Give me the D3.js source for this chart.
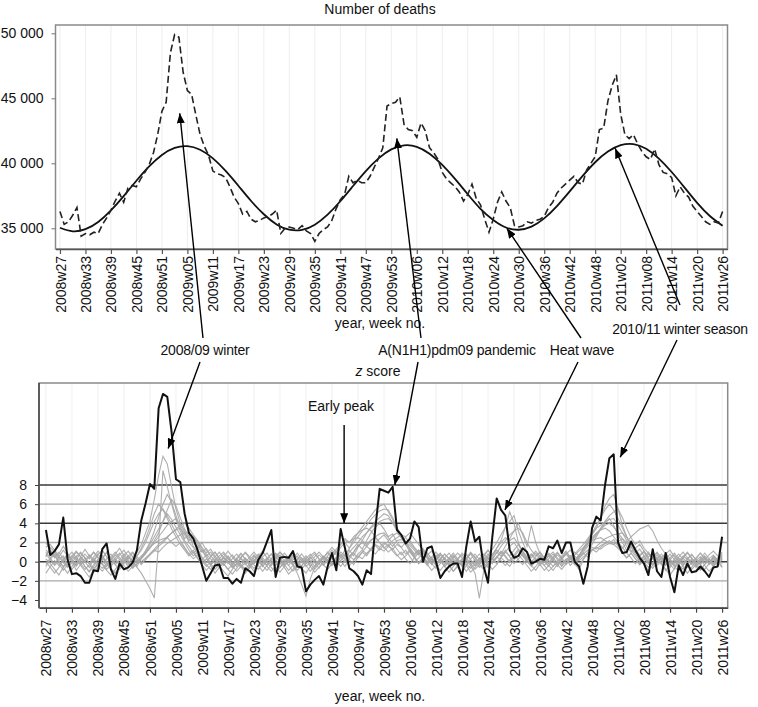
<!DOCTYPE html>
<html><head><meta charset="utf-8">
<script src="https://cdn.jsdelivr.net/npm/d3@7"></script>
<style>
body{margin:0;background:#fff;}
text{font-family:"Liberation Sans",Arial,Helvetica,sans-serif;}
</style></head>
<body><svg id="c" width="758" height="707"></svg>
<script>
// ---------- DATA ----------
const tickLabels = ["2008w27","2008w33","2008w39","2008w45","2008w51","2009w05","2009w11","2009w17","2009w23","2009w29","2009w35","2009w41","2009w47","2009w53","2010w06","2010w12","2010w18","2010w24","2010w30","2010w36","2010w42","2010w48","2011w02","2011w08","2011w14","2011w20","2011w26"];

const deathsTicks = [35000, 40000, 45000, 50000];
const zTicks = [-4, -2, 0, 2, 4, 6, 8];
const zGridDark = [0, 4, 8];
const zGridLight = [-2, 2, 6];

// observed weekly deaths (dashed)
const deaths = [
36300,35300,35500,36000,36600,34400,34600,34500,34700,34600,35300,35800,36400,
37100,37700,37000,38100,38300,38200,38800,39300,39900,40800,42200,44000,44700,
48500,49900,49700,47000,45600,45300,43700,42200,41300,40600,39400,39200,39100,
38900,38200,37400,36900,36100,36300,35700,35500,35600,35800,35900,36100,36400,
34600,35000,35100,35000,34900,35200,34800,34600,34000,34600,34900,35100,35600,
36500,37200,37600,39000,38500,38700,38500,38500,39000,39700,40400,41200,44400,
44600,44700,45100,43000,42600,42500,42000,43100,42500,41200,40800,40300,39300,
38800,38500,38200,37800,37100,37600,38400,37300,36800,35700,34700,35700,37000,
37800,37100,36600,35200,35100,35200,35500,35400,35600,35700,35900,36600,37000,
37700,38100,38400,38700,39000,38500,38400,39500,40000,40500,42600,42700,44800,
46000,46800,43800,42200,41900,42200,41500,40900,40500,40300,41100,39900,39300,
39200,38900,37500,38200,37700,37400,36700,36300,35900,35500,35300,35500,35400,
36300];

// baseline (solid), read every 3rd week
const baselineStep = 3;
const baseline = [35040,34770,34930,35490,36380,37480,38660,39760,40640,41180,41320,41040,40380,39410,38270,37100,36080,35300,34890,34880,35280,36050,37080,38250,39400,40380,41070,41380,41270,40740,39880,38800,37620,36500,35640,35060,34890,35130,35760,36710,37840,39010,40080,40900,41390,41480,41120,40360,39330,38150,36960,35950,35200];

// pooled z score (thick black)
const zPooled = [
3.3,0.7,1.1,1.8,4.6,0.2,-1.3,-1.2,-1.5,-2.2,-2.2,-0.9,-1.0,
1.3,1.9,-0.8,-1.8,-0.2,-0.8,-0.6,-0.1,1.2,4.3,6.1,8.1,7.6,
16.0,17.5,17.2,13.5,8.6,8.3,5.0,3.0,2.4,1.2,-0.4,-2.0,-1.2,
-0.4,-0.3,-1.7,-1.7,-2.3,-1.8,-2.2,-0.7,-1.0,-1.5,0.2,0.9,2.1,
3.3,-1.6,0.4,0.5,0.4,1.1,-0.5,-0.6,-3.1,-2.4,-1.9,-1.5,-2.4,
-0.5,0.9,-0.9,3.4,1.4,-0.7,-1.0,-1.5,-2.4,-0.9,-1.3,3.5,7.6,
7.4,7.2,7.8,3.3,2.8,1.9,2.4,4.2,3.6,0.0,1.4,1.6,0.0,
-1.7,-1.0,-0.5,-0.2,-0.2,-1.6,1.6,4.2,2.1,2.6,-0.5,-2.2,2.6,
6.6,5.4,4.8,1.2,0.4,0.6,1.4,1.0,-0.2,0.0,0.3,0.2,1.6,
1.4,2.2,0.9,2.0,2.0,0.0,-0.5,-2.3,-0.5,3.5,4.7,4.3,8.0,
10.8,11.2,2.0,0.9,1.0,2.1,1.2,0.4,-0.2,-1.4,1.3,-1.0,-1.6,
0.9,-1.6,-3.2,-0.4,-1.4,-0.2,-1.1,-1.0,-0.5,-1.0,-1.6,-0.6,-0.5,
2.6];

// country z scores (grey)
const zCountry1 = [
1.2,0.8,0.5,1.0,0.3,-0.4,-0.8,-0.2,0.4,-0.5,-1.0,-0.3,0.2,
0.6,-0.2,-0.8,-1.2,-0.5,0.1,-0.3,0.5,1.0,1.8,3.0,4.2,6.5,
9.0,11.0,10.2,7.8,5.5,4.0,3.2,2.0,1.5,0.8,1.2,0.4,-0.3,
0.2,-0.6,-0.2,0.5,-0.4,-1.0,-0.5,0.3,-0.2,0.6,0.1,-0.5,0.2,
0.8,0.1,-0.6,-0.2,0.4,-0.3,-0.9,-0.4,0.2,-0.5,0.1,0.7,0.3,
-0.2,0.5,1.0,0.4,0.8,1.2,0.6,1.5,2.2,3.0,3.6,4.2,4.6,
5.0,4.8,4.0,3.2,2.5,1.8,1.2,0.6,1.0,0.3,-0.2,0.4,-0.3,
0.2,-0.5,-0.1,0.6,0.0,-0.4,0.3,0.8,0.1,-0.6,-0.2,0.5,0.2,
1.0,0.6,1.2,0.5,-0.2,0.3,0.8,0.2,-0.4,0.1,0.6,0.0,-0.5,
0.2,0.7,0.3,-0.2,0.5,1.0,0.6,1.4,2.0,2.8,3.5,4.6,5.8,
6.6,7.0,5.5,3.8,2.6,1.8,1.2,0.6,1.0,0.2,-0.4,0.3,-0.2,
0.5,-0.3,-0.8,0.2,-0.4,0.4,-0.1,-0.6,0.0,0.5,-0.3,0.2,-0.4,
0.3];
const zCountry2 = [
0.5,1.5,1.0,0.2,0.6,-0.5,0.0,-0.9,-0.3,0.4,-0.2,-1.1,-0.6,
0.3,1.0,0.4,-0.3,-0.8,-0.2,0.6,0.1,-0.5,0.4,1.2,2.0,3.2,
4.6,6.0,7.0,6.2,4.8,3.5,2.4,2.8,1.6,1.0,0.2,0.7,-0.2,
-0.8,-0.3,0.4,0.0,-0.6,0.2,0.8,0.3,-0.4,-1.0,-0.3,0.5,0.9,
0.2,-0.4,0.3,0.9,0.4,-0.3,0.1,-0.7,-1.2,-0.5,0.2,-0.2,0.4,
1.0,0.3,-0.3,0.5,1.2,0.6,1.0,1.8,1.3,2.2,3.0,3.6,4.0,
3.4,2.6,2.9,2.0,1.5,0.8,1.2,0.5,-0.2,0.4,0.9,0.2,-0.4,
-0.9,-0.3,0.4,-0.2,0.3,-0.5,0.2,0.9,0.5,-0.3,0.1,0.6,1.3,
2.0,2.8,3.6,4.2,4.8,3.2,2.0,1.0,0.4,0.9,0.2,-0.4,0.3,
0.8,0.2,-0.5,0.1,0.6,-0.2,-0.8,0.2,1.0,1.8,2.6,3.4,4.0,
4.5,3.8,2.8,2.0,1.2,1.6,0.8,0.2,0.6,-0.2,0.4,0.9,0.3,
-0.3,0.2,-0.5,-1.0,-0.4,0.3,0.8,0.2,-0.3,0.4,-0.2,0.6,0.1,
-0.5];
const zCountry3 = [
2.0,1.2,0.4,0.8,1.6,0.9,0.2,0.6,-0.3,0.1,0.7,0.2,-0.5,
-1.0,-0.4,0.3,0.8,1.4,0.6,0.0,-0.6,-0.2,0.3,0.8,1.5,2.2,
3.0,4.2,5.4,6.5,5.8,4.6,3.4,2.6,2.0,1.4,2.0,1.2,0.6,
1.0,0.3,-0.4,0.2,0.7,0.1,-0.5,-1.2,-0.6,0.0,0.6,1.1,0.4,
-0.2,0.5,0.0,-0.6,-1.3,-0.8,-0.2,0.4,-0.1,0.6,1.0,0.3,-0.4,
0.2,-0.3,0.5,0.1,-0.5,0.3,0.9,0.4,1.0,1.6,1.2,2.0,2.4,
2.8,2.2,2.7,3.0,2.5,1.8,2.2,1.5,1.0,1.4,0.6,0.0,0.5,
0.9,0.3,-0.3,0.2,-0.6,-1.1,-0.4,0.3,0.8,0.2,-0.3,0.4,-0.1,
0.5,1.1,0.6,0.0,0.7,1.3,0.8,0.2,-0.4,-0.9,-0.2,0.5,0.1,
-0.5,0.0,0.6,1.1,0.4,-0.2,0.5,1.0,1.6,2.2,2.8,3.5,4.2,
4.8,5.2,5.5,4.6,3.5,2.5,1.8,2.2,1.4,0.9,0.3,0.7,0.1,
-0.4,0.2,0.7,0.1,-0.5,-1.2,-0.6,0.1,0.5,-0.1,0.3,-0.4,0.2,
0.6];
const zCountry4 = [
-0.5,0.2,0.8,-0.2,-0.9,-0.3,0.4,1.0,0.5,1.3,0.6,0.0,0.7,
1.2,0.5,-0.2,0.4,0.9,0.2,-0.6,-0.2,0.6,1.2,2.0,3.1,4.2,
5.0,5.5,4.8,3.9,3.0,2.2,1.5,0.8,1.2,0.4,-0.3,0.3,-0.4,
-1.2,-0.6,0.1,0.6,0.0,-0.5,0.4,1.0,0.5,-0.2,0.3,-0.4,-0.9,
-0.3,0.4,1.0,0.5,0.0,0.6,-0.2,-0.8,-0.2,0.5,-0.1,-0.7,0.0,
0.6,1.2,0.7,1.5,2.0,1.4,2.3,3.0,3.6,4.2,4.8,5.4,5.8,
6.0,5.2,4.4,3.5,2.8,2.0,1.4,0.8,1.2,0.5,-0.1,0.4,-0.3,
0.2,0.8,0.3,-0.3,0.3,0.9,0.4,-0.2,-0.8,-0.3,0.2,0.8,0.4,
-0.2,0.5,1.0,1.6,2.0,1.3,0.6,0.1,0.6,1.1,0.5,0.0,0.6,
1.0,0.4,-0.2,0.3,-0.4,0.2,0.7,1.3,2.0,2.5,3.0,3.3,3.5,
3.2,2.6,2.0,1.4,2.0,1.2,0.6,0.0,0.5,1.0,0.4,-0.2,0.4,
0.9,0.3,-0.3,0.4,0.0,-0.6,-0.1,0.4,0.9,0.3,-0.2,0.5,0.0,
0.8];
const zCountry5 = [
1.0,0.4,-0.3,0.5,1.2,0.6,0.0,-0.5,0.2,0.8,0.3,1.0,0.5,
-0.2,-0.8,-0.3,0.3,-0.2,0.6,1.1,0.5,0.0,0.4,0.9,1.4,2.0,
2.6,3.2,3.8,4.2,4.5,3.8,3.0,2.4,2.0,1.6,1.0,1.4,0.6,
0.1,0.6,1.0,0.4,-0.2,0.3,-0.3,-0.8,-0.2,0.4,0.8,0.2,-0.4,
0.3,0.8,0.2,-0.4,0.2,0.7,0.1,-0.5,0.3,0.8,0.2,-0.3,0.4,
0.9,1.5,1.0,1.8,2.4,2.0,2.6,3.0,3.3,3.5,3.2,2.6,2.0,
1.4,1.8,1.1,0.6,1.0,0.3,-0.2,0.4,0.9,0.2,-0.4,0.3,0.7,
0.1,-0.5,0.2,0.7,0.2,-0.3,0.4,1.0,0.4,-0.1,0.5,1.2,0.6,
1.4,2.2,3.6,5.2,4.0,2.0,1.0,0.4,0.8,0.2,-0.4,0.2,0.6,
0.1,-0.5,0.2,0.8,0.3,-0.3,0.3,0.9,0.5,1.2,1.6,2.0,2.4,
2.6,2.8,2.9,3.0,2.5,1.9,1.4,1.8,1.1,0.5,0.9,0.3,-0.2,
0.3,0.8,0.2,-0.3,0.4,0.9,0.3,-0.4,0.1,0.6,0.0,-0.5,0.2,
0.7];
const zCountry6 = [
0.3,-0.2,-0.8,-1.4,-0.6,0.0,0.6,0.2,-0.4,-1.0,-1.6,-0.9,-0.3,
0.4,-0.1,-0.7,-1.2,-0.6,0.0,0.5,0.0,0.6,1.4,2.4,3.6,5.0,
6.0,5.4,4.5,3.4,2.6,1.8,1.2,0.6,1.0,0.3,-0.3,-0.9,-0.4,
0.2,-0.4,-1.0,-1.5,-0.8,-0.2,0.4,-0.2,-0.7,0.0,0.6,0.1,-0.5,
-1.0,-0.4,0.3,-0.3,-0.9,-0.4,0.2,0.8,0.2,-0.5,-1.1,-0.6,0.0,
0.5,-0.1,-0.6,0.1,0.6,0.2,-0.3,0.5,1.0,0.6,1.3,1.7,1.2,
1.8,2.1,1.6,2.2,2.3,2.5,1.9,1.4,0.8,1.2,0.5,-0.2,-0.7,
-0.2,0.4,-0.3,-1.0,-0.5,0.2,-0.4,-1.1,-0.6,0.0,0.5,-0.2,-0.8,
-0.3,0.4,1.0,0.6,1.2,1.8,1.0,0.4,-0.2,0.3,-0.3,-0.9,-0.4,
0.2,-0.3,-0.8,-0.2,0.4,0.0,0.6,1.2,1.8,2.4,2.9,3.4,3.8,
4.0,3.6,3.0,2.4,1.6,1.0,1.4,0.6,0.0,-0.6,-0.1,0.5,-0.2,
-0.8,-1.4,-0.7,-0.1,0.4,-0.2,-0.8,-0.3,0.3,-0.4,-1.0,-0.5,0.0,
-0.6];
const zCountry7 = [
-1.2,-0.5,0.1,-0.4,0.3,0.8,0.2,-0.3,0.5,0.0,-0.6,0.2,0.8,
0.2,-0.5,0.1,0.7,0.2,-0.4,-1.0,-0.5,0.2,-0.3,0.3,0.8,1.3,
1.8,2.2,2.6,3.0,3.3,3.5,2.8,2.2,2.6,1.8,1.2,0.6,1.0,
0.4,-0.2,0.5,0.0,-0.6,-0.2,0.5,0.9,0.3,-0.3,-0.8,-0.2,0.4,
0.0,-0.6,-1.1,-0.5,0.1,-0.4,-1.2,-2.4,-3.6,-1.8,-0.6,0.0,0.5,
0.1,-0.4,0.3,0.8,0.3,1.0,1.5,2.0,2.6,3.0,3.5,3.9,4.2,
4.4,4.5,4.1,3.4,2.6,2.0,1.4,0.8,1.2,0.5,0.0,0.5,1.0,
0.4,-0.2,0.4,0.9,0.3,-0.3,0.2,-0.4,0.3,0.8,0.2,-0.3,0.4,
0.9,1.6,2.2,2.8,3.2,3.5,3.0,2.0,1.2,0.6,1.0,0.3,-0.2,
0.4,0.9,0.3,-0.3,0.2,0.7,1.1,1.5,1.9,2.2,2.4,2.5,2.2,
1.9,2.3,1.6,1.0,0.4,0.9,0.3,-0.3,0.2,0.8,0.3,-0.4,0.1,
0.6,0.1,-0.5,0.0,0.6,0.2,-0.3,0.3,0.9,0.3,-0.2,0.4,-0.3,
0.2];
const zCountry8 = [
0.8,0.2,-0.4,0.1,-0.6,-1.2,-0.5,0.2,0.9,0.4,-0.2,0.5,1.1,
0.6,0.0,-0.5,0.1,0.7,1.2,0.5,0.0,-0.6,-1.2,-2.0,-2.8,-3.8,
2.0,9.5,7.8,6.0,4.4,3.2,2.2,1.6,0.9,1.3,0.5,-0.1,0.5,
1.0,0.4,-0.2,-0.8,-0.3,0.4,0.9,0.2,-0.4,0.2,-0.4,-1.0,-0.4,
0.3,0.9,0.4,-0.2,0.5,1.0,0.4,-0.1,0.4,-0.2,-0.8,-0.2,0.5,
0.0,0.6,1.1,0.5,-0.1,0.5,1.0,1.6,2.0,1.6,2.2,2.6,2.9,
3.0,2.5,1.9,1.3,0.7,1.2,0.5,-0.1,0.4,0.9,0.3,-0.3,0.2,
0.7,0.2,-0.4,-1.0,-0.4,0.2,0.7,0.2,-0.4,0.2,0.8,0.3,-0.2,
0.4,1.0,0.5,-0.1,0.5,1.1,0.6,0.0,-0.5,0.1,0.6,0.1,-0.4,
-0.9,-0.3,0.3,0.8,0.3,-0.2,0.4,0.8,1.2,1.5,1.3,1.7,1.9,
2.0,1.8,1.4,0.9,0.4,0.9,0.3,-0.3,0.3,-0.2,-0.7,-0.1,0.5,
0.0,-0.6,0.0,0.5,1.0,0.4,-0.2,0.3,-0.3,-0.8,-0.2,0.4,0.0,
0.5];
const zCountry9 = [
1.5,1.8,1.2,0.6,0.0,0.5,1.0,0.4,-0.2,-0.8,-0.3,0.3,-0.2,
-0.7,-0.2,0.5,1.0,0.4,-0.1,0.3,0.9,0.3,-0.2,0.2,0.7,1.1,
1.6,2.0,2.5,3.0,3.4,3.8,4.0,3.5,2.8,2.2,1.5,0.9,1.3,
0.6,0.0,0.5,1.1,0.5,-0.1,-0.6,-0.1,0.5,1.0,0.4,-0.2,0.3,
0.8,0.2,-0.3,0.2,-0.4,-1.0,-0.5,0.1,0.6,0.1,-0.5,0.1,0.6,
0.2,-0.3,0.2,0.7,0.2,-0.4,0.1,0.6,0.3,0.9,1.2,0.8,1.4,
1.1,1.6,1.3,1.8,1.5,2.0,1.7,1.2,0.7,1.1,0.4,-0.2,0.3,
0.8,0.3,-0.2,0.4,0.9,0.4,-0.2,-0.7,-0.2,0.4,-0.1,-0.6,0.0,
0.5,0.1,-0.4,0.2,0.7,0.2,-0.3,0.3,0.8,0.3,-0.2,0.4,0.9,
0.4,-0.1,0.4,1.0,0.5,0.0,0.6,1.4,2.2,3.0,3.8,4.6,5.4,
6.0,5.4,4.5,3.5,2.6,1.8,1.2,0.7,1.1,0.4,-0.2,0.3,0.8,
0.2,-0.3,0.3,0.8,0.2,-0.3,0.2,-0.4,-0.9,-0.3,0.3,0.7,0.2,
-0.2];
const zCountry10 = [
-0.3,0.4,1.0,0.5,-0.1,-0.6,-0.1,0.5,1.0,0.4,-0.2,-0.7,-0.2,
0.4,0.9,0.3,-0.3,0.2,0.8,0.2,-0.4,0.1,0.6,1.0,1.5,1.9,
2.2,2.4,2.5,2.0,1.6,2.0,1.4,0.8,0.3,0.7,0.1,-0.5,0.0,
0.5,1.0,0.4,-0.2,0.3,0.8,0.3,-0.3,0.2,0.7,0.1,-0.5,0.1,
-0.4,0.2,0.7,0.1,-0.4,0.2,0.6,0.1,-0.5,-0.1,0.5,1.0,0.5,
-0.1,0.4,0.0,-0.5,0.1,0.6,0.2,0.8,1.2,0.8,1.4,1.8,1.5,
2.0,1.6,2.2,2.5,2.8,2.6,3.0,2.4,1.8,1.2,0.7,1.1,0.5,
-0.1,0.4,0.9,0.3,-0.2,0.3,0.8,0.2,-0.4,0.2,0.7,1.2,0.6,
1.2,0.8,1.6,2.4,3.2,4.0,2.8,1.6,3.8,2.0,0.8,0.3,0.8,
0.2,-0.3,0.3,0.8,1.2,0.6,0.1,0.5,0.9,1.3,1.0,1.5,1.9,
2.2,1.8,2.1,2.4,2.0,2.6,3.0,3.4,3.6,3.8,3.2,2.2,1.4,
0.8,1.2,0.5,-0.1,0.5,1.0,0.4,-0.2,0.3,0.9,0.3,-0.2,0.4,
1.0];
const zCountry11 = [
0.0,-0.6,-1.2,-0.6,0.1,0.7,0.2,-0.4,0.1,-0.5,-1.1,-0.5,0.2,
-0.3,-0.9,-1.4,-0.8,-0.2,0.4,-0.1,-0.7,-0.2,0.4,1.0,1.8,2.6,
3.4,4.2,5.0,4.4,3.6,2.8,2.0,1.2,0.6,1.0,0.3,-0.3,-0.8,
-0.3,0.3,-0.2,-0.8,-1.3,-0.7,-0.1,0.4,-0.2,-0.7,-0.2,0.4,-0.1,
-0.6,-1.2,-0.6,0.0,0.5,0.0,-0.5,0.1,-0.4,-1.0,-0.4,0.2,-0.3,
-0.8,-0.2,0.4,1.0,0.6,1.4,2.0,2.6,3.2,3.8,4.4,4.9,5.3,
5.5,5.4,4.6,3.6,2.6,1.8,1.0,0.4,-0.2,0.3,-0.3,-0.9,-0.4,
0.1,-0.5,-1.1,-0.5,0.1,-0.4,-1.0,-0.4,0.2,-0.3,-0.8,-0.3,0.3,
-0.2,0.4,0.0,-0.5,0.2,0.7,0.2,-0.4,-1.0,-0.5,0.1,-0.4,-1.0,
-0.5,0.1,-0.4,0.2,0.6,0.1,-0.4,0.3,0.8,1.2,1.5,1.3,1.7,
1.9,1.8,2.0,1.5,0.9,0.4,-0.2,0.3,-0.3,-0.9,-0.4,0.2,-0.3,
-0.9,-0.4,0.2,-0.3,-0.8,-0.2,0.3,-0.2,-0.8,-0.3,0.2,-0.3,0.1,
0.4];
const zCountry12 = [
0.6,1.2,0.6,0.0,-0.5,0.1,0.6,1.1,0.5,0.0,0.5,1.0,0.4,
-0.2,0.3,0.8,0.2,-0.4,0.1,0.6,1.0,0.5,0.0,0.4,0.8,1.2,
1.0,1.5,1.9,2.2,2.5,2.8,3.0,3.0,2.6,2.0,1.4,0.8,0.3,
-0.2,0.3,0.8,0.3,-0.3,0.2,-0.4,-1.0,-0.5,0.1,0.6,0.1,-0.4,
0.1,0.6,1.0,0.5,-0.1,0.4,0.9,0.3,-0.2,0.3,0.8,0.3,-0.3,
0.2,0.8,1.3,1.8,2.2,2.0,2.4,2.5,2.2,1.8,2.3,2.5,2.0,
1.5,1.0,1.4,0.7,0.2,0.6,1.1,0.5,-0.1,0.4,0.9,0.3,-0.2,
0.3,0.8,0.3,-0.3,0.2,0.7,0.1,-0.4,-1.2,-3.8,-1.0,0.2,0.8,
1.4,2.0,2.5,2.2,2.5,1.8,1.1,0.5,0.0,0.5,1.0,0.4,-0.1,
0.5,1.0,0.4,-0.2,0.3,0.8,1.3,1.8,2.4,3.0,3.5,3.8,4.2,
4.4,4.5,3.8,3.0,2.2,1.5,0.9,1.3,0.6,0.0,0.5,1.0,0.4,
-0.1,0.4,0.9,0.3,-0.3,0.2,0.7,0.2,-0.3,0.2,0.7,1.1,0.6,
0.2];
const zCountries = [zCountry1,zCountry2,zCountry3,zCountry4,zCountry5,zCountry6,zCountry7,zCountry8,zCountry9,zCountry10,zCountry11,zCountry12];

// annotations: arrow tips in data coordinates (panel, week index, value), label/arrow tails in page space
const labels = [
  {text:"2008/09 winter", x:205, y:355},
  {text:"A(N1H1)pdm09 pandemic", x:457, y:355},
  {text:"Heat wave", x:582, y:355},
  {text:"2010/11 winter season", x:680, y:334}
];
const arrows = [
  {panel:"top", week:28.2, value:43850, fx:203, fy:338},
  {panel:"bot", week:28.2, value:11.8, fx:200, fy:362},
  {panel:"top", week:79.3, value:41920, fx:421, fy:338},
  {panel:"bot", week:80.5, value:8.0, fx:418, fy:362},
  {panel:"top", week:105.2, value:35000, fx:581, fy:338},
  {panel:"bot", week:105.9, value:5.4, fx:578, fy:362},
  {panel:"top", week:130.7, value:41150, fx:680, fy:305},
  {panel:"bot", week:132.5, value:10.9, fx:677, fy:340},
  {panel:"bot", week:68.8, value:4.0, fx:null, fy:425}
];

// ---------- DRAW ----------
const svg = d3.select("#c");
svg.append("rect").attr("width",758).attr("height",707).attr("fill","#fff");
const defs = svg.append("defs");
defs.append("marker").attr("id","ah").attr("viewBox","0 0 10 8").attr("refX",10).attr("refY",4)
  .attr("markerWidth",10).attr("markerHeight",8).attr("markerUnits","userSpaceOnUse").attr("orient","auto")
  .append("path").attr("d","M0,0L10,4L0,8Z").attr("fill","#000");

const tickIdx = d3.range(0, 157, 6);
const FONT = '"Liberation Sans",Arial,sans-serif';

// ---- top panel ----
const T = {l:55.5, r:727.5, t:25, b:249};
const xT = d3.scaleLinear().domain([-1.05, 157.15]).range([T.l, T.r]);
const yT = d3.scaleLinear().domain([35000, 50000]).range([228.3, 33.3]);

const gT = svg.append("g");
gT.selectAll("line.vg").data(tickIdx).join("line").attr("class","vg")
  .attr("x1",d=>xT(d)).attr("x2",d=>xT(d)).attr("y1",T.t).attr("y2",T.b)
  .attr("stroke","#eeeeee").attr("stroke-width",1);
gT.append("rect").attr("x",T.l).attr("y",T.t).attr("width",T.r-T.l).attr("height",T.b-T.t)
  .attr("fill","none").attr("stroke","#8a8a8a").attr("stroke-width",1.5);

const axTB = gT.append("g").attr("transform",`translate(0,${T.b})`)
  .call(d3.axisBottom(xT).tickValues(tickIdx).tickFormat(d=>tickLabels[d/6]).tickSize(5).tickSizeOuter(0));
axTB.select(".domain").attr("stroke","#555").attr("stroke-width",1.5);
axTB.selectAll(".tick line").attr("stroke","#555").attr("stroke-width",1.2);
axTB.selectAll("text").attr("transform","rotate(-90)").attr("text-anchor","end")
  .attr("x",-7).attr("y",0).attr("dy","0.36em").attr("font-size",14).attr("fill","#111")
  .style("font-family",FONT);

const axTL = gT.append("g").attr("transform",`translate(${T.l},0)`)
  .call(d3.axisLeft(yT).tickValues(deathsTicks).tickFormat(d=>d3.format(",")(d).replace(","," ")).tickSize(4).tickPadding(8));
axTL.select(".domain").remove();
axTL.selectAll(".tick line").attr("stroke","#777");
axTL.selectAll("text").attr("font-size",14).attr("fill","#111").style("font-family",FONT);

gT.append("path").datum(baseline)
  .attr("d", d3.line().x((d,i)=>xT(i*baselineStep)).y(d=>yT(d)).curve(d3.curveNatural))
  .attr("fill","none").attr("stroke","#111").attr("stroke-width",1.8);
gT.append("path").datum(deaths)
  .attr("d", d3.line().x((d,i)=>xT(i)).y(d=>yT(d)))
  .attr("fill","none").attr("stroke","#222").attr("stroke-width",1.6).attr("stroke-dasharray","7,3.5");

svg.append("text").attr("x",380).attr("y",14).attr("text-anchor","middle").attr("font-size",14).attr("fill","#111").text("Number of deaths");
svg.append("text").attr("x",380).attr("y",328).attr("text-anchor","middle").attr("font-size",14).attr("fill","#111").text("year, week no.");

// ---- bottom panel ----
const B = {l:39, r:727.7, t:383, b:607.7};
const xB = d3.scaleLinear().domain([-1.6, 157.3]).range([B.l, B.r]);
const yB = d3.scaleLinear().domain([-4, 8]).range([600, 485]);

const gB = svg.append("g");
gB.selectAll("line.vg").data(tickIdx).join("line").attr("class","vg")
  .attr("x1",d=>xB(d)).attr("x2",d=>xB(d)).attr("y1",B.t).attr("y2",B.b)
  .attr("stroke","#f0f0f0").attr("stroke-width",1);
gB.selectAll("line.hgl").data(zGridLight).join("line").attr("class","hgl")
  .attr("x1",B.l).attr("x2",B.r).attr("y1",d=>yB(d)).attr("y2",d=>yB(d))
  .attr("stroke","#a8a8a8").attr("stroke-width",1.3);
gB.selectAll("line.hgd").data(zGridDark).join("line").attr("class","hgd")
  .attr("x1",B.l).attr("x2",B.r).attr("y1",d=>yB(d)).attr("y2",d=>yB(d))
  .attr("stroke","#3a3a3a").attr("stroke-width",1.5);

const zLine = d3.line().x((d,i)=>xB(i)).y(d=>yB(d));
gB.selectAll("path.grey").data(zCountries).join("path").attr("class","grey")
  .attr("d", zLine).attr("fill","none").attr("stroke","#a6a6a6").attr("stroke-width",1.1).attr("stroke-opacity",0.9);
gB.append("path").datum(zPooled).attr("d", zLine)
  .attr("fill","none").attr("stroke","#111").attr("stroke-width",2).attr("stroke-linejoin","round");

gB.append("rect").attr("x",B.l).attr("y",B.t).attr("width",B.r-B.l).attr("height",B.b-B.t)
  .attr("fill","none").attr("stroke","#8a8a8a").attr("stroke-width",1.5);

const axBB = gB.append("g").attr("transform",`translate(0,${B.b})`)
  .call(d3.axisBottom(xB).tickValues(tickIdx).tickFormat(d=>tickLabels[d/6]).tickSize(5).tickSizeOuter(0));
axBB.select(".domain").attr("stroke","#444").attr("stroke-width",1.5);
axBB.selectAll(".tick line").attr("stroke","#444").attr("stroke-width",1.2);
axBB.selectAll("text").attr("transform","rotate(-90)").attr("text-anchor","end")
  .attr("x",-12).attr("y",0).attr("dy","0.36em").attr("font-size",14).attr("fill","#111")
  .style("font-family",FONT);

const axBL = gB.append("g").attr("transform",`translate(${B.l},0)`)
  .call(d3.axisLeft(yB).tickValues(zTicks).tickFormat(d=>d<0?"\u2212"+Math.abs(d):String(d)).tickSize(4).tickPadding(8));
axBL.select(".domain").attr("stroke","#444").attr("stroke-width",1.5).attr("d",`M0,${B.t}V${B.b}`);
axBL.selectAll(".tick line").attr("stroke","#444");
axBL.selectAll("text").attr("font-size",14).attr("fill","#111").style("font-family",FONT);

svg.append("text").attr("x",380).attr("y",701).attr("text-anchor","middle").attr("font-size",14).attr("fill","#111").text("year, week no.");
const zs = svg.append("text").attr("x",378).attr("y",376).attr("text-anchor","middle").attr("font-size",14).attr("fill","#111");
zs.append("tspan").attr("font-style","italic").text("z");
zs.append("tspan").text(" score");
svg.append("text").attr("x",341).attr("y",411).attr("text-anchor","middle").attr("font-size",14).attr("fill","#111").text("Early peak");

// ---- annotations ----
svg.selectAll("text.lab").data(labels).join("text").attr("class","lab")
  .attr("x",d=>d.x).attr("y",d=>d.y).attr("text-anchor","middle").attr("font-size",14).attr("fill","#111")
  .style("letter-spacing","-0.2px").text(d=>d.text);

svg.selectAll("line.arr").data(arrows).join("line").attr("class","arr")
  .each(function(d){
    const tx = d.panel==="top" ? xT(d.week) : xB(d.week);
    const ty = d.panel==="top" ? yT(d.value) : yB(d.value);
    d3.select(this).attr("x1", d.fx==null ? tx : d.fx).attr("y1", d.fy).attr("x2", tx).attr("y2", ty);
  })
  .attr("stroke","#000").attr("stroke-width",1.4).attr("marker-end","url(#ah)");
</script></body></html>
